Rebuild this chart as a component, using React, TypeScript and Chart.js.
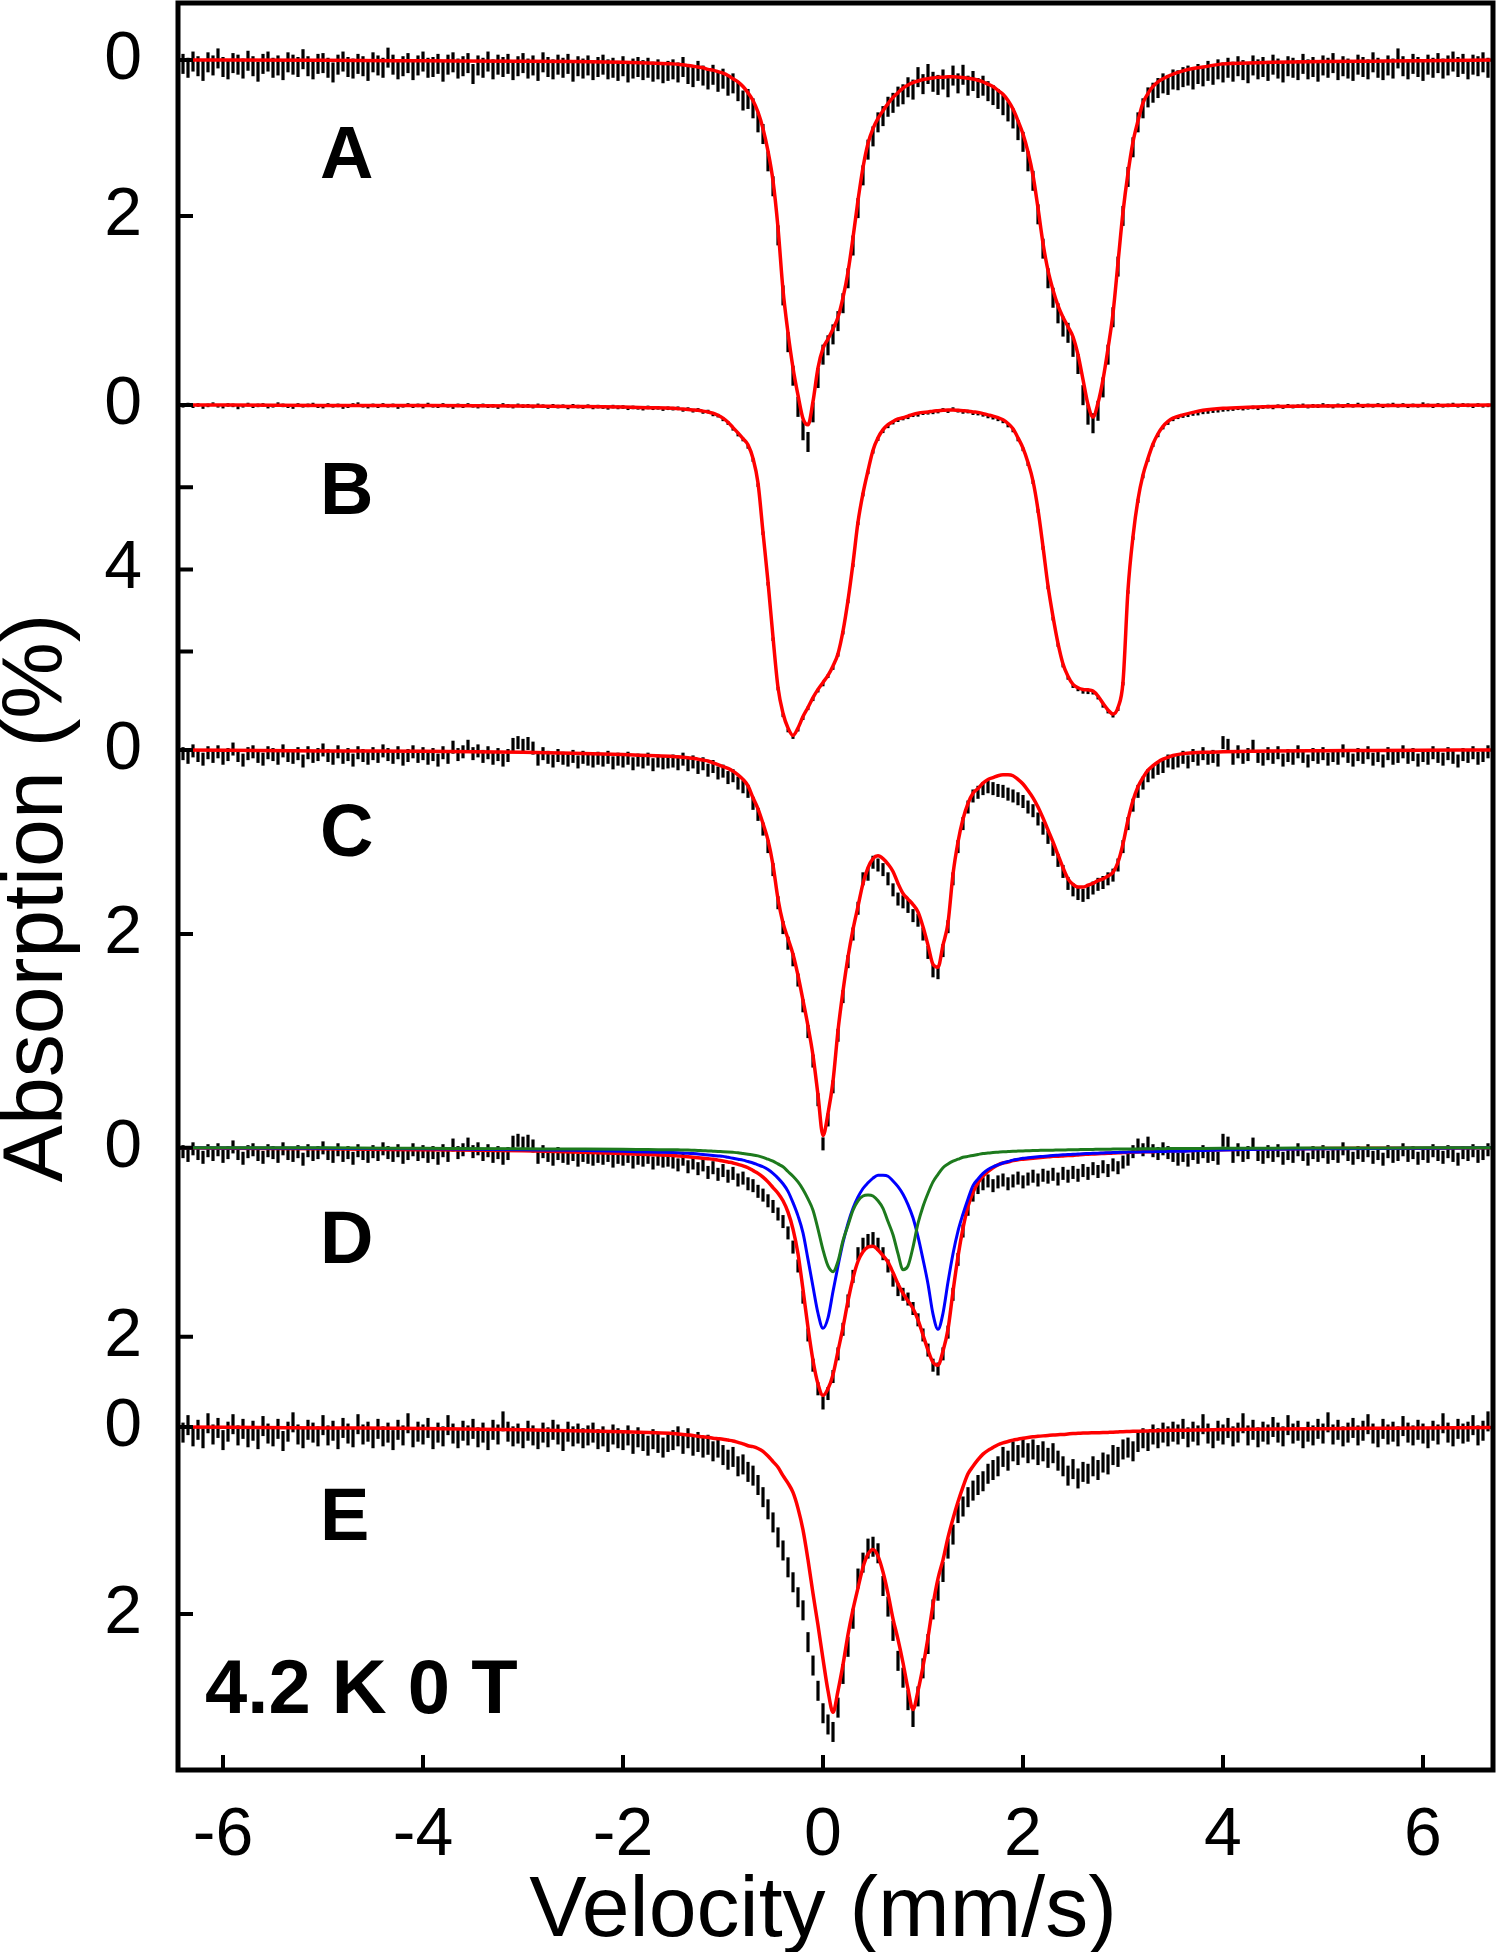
import React, { useEffect, useRef } from 'react';
import { Chart, registerables } from 'chart.js';

Chart.register(...registerables);

const FONT = "'Liberation Sans', Arial, Helvetica, sans-serif";

// ---------- axes ----------
const X_MIN = -6.45;
const X_MAX = 6.7;
const X_TICKS = [-6, -4, -2, 0, 2, 4, 6];

// spectra A..E are stacked: zero line offset and % scale (stack units, reversed axis)
const STACK_OFFSET = [0.603, 4.254, 7.905, 12.116, 15.07];
const STACK_SCALE = [0.825, 0.435, 0.974, 1.0, 0.99];
const Y_RANGE = 18.7;
const Y_TICK_SPEC: [number, number][] = [[0, 0], [0, 2], [1, 0], [1, 2], [1, 4], [1, 6], [2, 0], [2, 2], [3, 0], [3, 2], [4, 0], [4, 2]];
const Y_TICK_LABELS = ['0', '2', '0', '', '4', '', '0', '2', '0', '2', '0', '2'];

// velocity grid of the measured channels (mm/s)
const DATA_V = Array.from({ length: 262 }, (_, i) => Math.round((-6.4 + 0.05 * i) * 100) / 100);
// velocity grid used for the fitted curves
const FIT_V_LEFT = [-6.45, -5, -4, -3, -2.5, -2, -1.75];
const FIT_V_MID = Array.from({ length: 101 }, (_, i) => Math.round((-1.5 + 0.05 * i) * 100) / 100);
const FIT_V_RIGHT = [3.6, 3.7, 3.8, 4.0, 4.25, 4.5, 5.0, 5.5, 6.0, 6.7];
const FIT_V = [...FIT_V_LEFT, ...FIT_V_MID, ...FIT_V_RIGHT];

// ---------- spectrum A ----------
const A_DATA_LEFT = [
  0.05,0.10,0.02,0.08,0.14,0.03,0.07,-0.02,0.09,0.12,0.04,0.06,0.11,0.01,
  0.08,0.15,0.05,0.02,0.10,0.07,0.13,0.03,0.06,0.09,-0.01,0.08,0.12,0.05,
  0.04,0.10,0.16,0.06,0.02,0.09,0.11,0.05,0.08,0.14,0.03,0.07,0.10,-0.03,
  0.06,0.12,0.08,0.04,0.13,0.07,0.02,0.10,0.09,0.05,0.15,0.06,0.03,0.11,
  0.08,0.04,0.18,0.07,0.10,0.02,0.12,0.06,0.09,0.05,0.13,0.08,0.04,0.11,
  0.07,0.14,0.03,0.09,0.12,0.06,0.10,0.05,0.15,0.08,0.11,0.07,0.13,0.09,
  0.06,0.12,0.10,0.14,0.08,0.16,0.11,0.09,0.13,0.10,0.15,0.12,0.17,0.14,
];
const A_DATA_MID = [
  0.12,0.16,0.09,0.18,0.22,0.14,0.20,0.25,0.19,0.28,
  0.24,0.33,0.30,0.40,0.52,0.50,0.62,0.80,0.95,1.30,
  1.62,2.25,3.02,3.62,4.05,4.45,4.75,4.90,4.52,4.08,
  3.78,3.66,3.52,3.35,3.12,2.80,2.38,1.90,1.48,1.15,
  0.98,0.80,0.72,0.60,0.55,0.47,0.44,0.35,0.38,0.22,
  0.31,0.18,0.28,0.32,0.25,0.35,0.20,0.30,0.19,0.33,
  0.27,0.36,0.33,0.40,0.45,0.50,0.58,0.66,0.75,0.90,
  1.05,1.30,1.55,1.98,2.42,2.80,3.05,3.25,3.42,3.50,
  3.68,3.90,4.30,4.55,4.66,4.50,4.20,3.78,3.30,2.65,
  2.00,1.50,1.12,0.80,0.62,0.48,0.42,0.36,0.30,0.32,
  0.25,
];
const A_DATA_RIGHT = [
  0.26,0.22,0.20,0.25,0.18,0.21,0.14,0.19,0.12,0.16,
  0.10,0.15,0.08,0.13,0.17,0.07,0.12,0.09,0.14,0.06,
  0.11,0.16,0.08,0.10,0.13,0.05,0.12,0.09,0.15,0.07,
  0.10,0.04,0.13,0.08,0.11,0.14,0.06,0.09,0.12,0.03,
  0.10,0.13,0.07,0.11,-0.02,0.08,0.12,0.05,0.09,0.14,
  0.06,0.10,0.04,0.11,0.07,0.02,0.09,0.05,0.12,0.06,
  0.08,0.03,0.10,
];
const A_FIT = [
  0.00,0.005,0.01,0.015,0.02,0.03,0.04,
  0.05,0.055,0.06,0.07,0.08,0.09,0.10,0.12,0.13,0.15,
  0.17,0.20,0.24,0.28,0.34,0.42,0.52,0.67,0.88,1.17,
  1.55,2.15,2.95,3.50,3.95,4.30,4.60,4.68,4.38,3.95,
  3.70,3.58,3.45,3.30,3.05,2.72,2.28,1.80,1.38,1.07,
  0.88,0.75,0.65,0.56,0.48,0.42,0.36,0.32,0.29,0.27,
  0.25,0.24,0.23,0.22,0.22,0.215,0.215,0.22,0.225,0.235,
  0.245,0.26,0.28,0.31,0.34,0.39,0.44,0.52,0.63,0.78,
  0.95,1.18,1.48,1.90,2.35,2.70,2.95,3.15,3.30,3.42,
  3.55,3.78,4.10,4.42,4.58,4.40,4.10,3.70,3.25,2.60,
  1.95,1.45,1.05,0.78,0.55,0.43,0.34,0.28,0.24,0.21,
  0.18,
  0.14,0.11,0.09,0.05,0.04,0.03,0.02,0.015,0.01,0.0,
];

// ---------- spectrum B ----------
const B_DATA_LEFT = [
  0.02,-0.01,0.03,0.00,0.05,0.01,-0.02,0.02,0.04,0.00,0.01,0.06,0.02,-0.01,
  0.03,0.01,0.00,0.04,0.02,-0.02,0.01,0.03,0.05,0.00,0.02,0.01,-0.01,0.03,
  0.04,0.00,0.02,0.01,0.05,0.03,0.00,-0.02,0.02,0.04,0.01,0.03,0.00,0.02,
  0.01,0.05,0.02,0.00,0.03,0.01,0.04,-0.01,0.02,0.03,0.00,0.02,0.05,0.01,
  0.03,0.00,0.02,0.04,0.01,0.03,0.02,0.05,0.00,0.02,0.04,0.01,0.03,0.02,
  0.04,0.01,0.03,0.05,0.02,0.04,0.03,0.06,0.02,0.04,0.05,0.03,0.06,0.04,
  0.05,0.07,0.04,0.06,0.05,0.08,0.06,0.07,0.09,0.06,0.08,0.07,0.10,0.08,
];
const B_DATA_MID = [
  0.09,0.08,0.12,0.10,0.14,0.12,0.17,0.16,0.23,0.26,
  0.35,0.44,0.58,0.72,0.84,1.02,1.34,1.95,3.12,4.35,
  5.70,6.90,7.55,7.92,8.08,7.90,7.62,7.38,7.16,6.95,
  6.80,6.60,6.40,6.08,5.54,4.78,3.90,2.88,2.18,1.64,
  1.14,0.83,0.64,0.52,0.43,0.37,0.33,0.30,0.25,0.24,
  0.20,0.19,0.18,0.16,0.12,0.15,0.10,0.14,0.17,0.16,
  0.20,0.21,0.24,0.28,0.31,0.35,0.40,0.50,0.62,0.84,
  1.08,1.44,1.88,2.58,3.48,4.44,5.20,5.84,6.34,6.64,
  6.84,6.92,6.98,6.99,7.00,7.12,7.32,7.46,7.56,7.40,
  6.78,4.55,3.24,2.34,1.74,1.34,0.98,0.74,0.55,0.44,
  0.35,
];
const B_DATA_RIGHT = [
  0.30,0.27,0.25,0.22,0.21,0.18,0.17,0.15,0.14,0.12,
  0.11,0.10,0.08,0.09,0.07,0.06,0.08,0.05,0.04,0.06,
  0.03,0.05,0.02,0.04,0.03,0.01,0.04,0.02,0.03,0.00,
  0.02,0.04,0.01,0.03,0.00,0.02,-0.01,0.03,0.01,0.02,
  0.00,0.03,0.01,-0.01,0.02,0.00,0.03,0.01,0.02,-0.02,
  0.01,0.03,0.00,0.02,0.01,-0.01,0.02,0.00,0.01,0.03,
  0.00,0.02,0.01,
];
const B_FIT = [
  0.00,0.01,0.015,0.025,0.035,0.05,0.065,
  0.08,0.09,0.10,0.11,0.12,0.13,0.15,0.17,0.20,0.25,
  0.32,0.42,0.55,0.68,0.82,0.97,1.30,1.90,3.10,4.30,
  5.65,6.87,7.50,7.86,8.04,7.86,7.58,7.36,7.12,6.92,
  6.75,6.58,6.35,6.05,5.50,4.75,3.85,2.85,2.15,1.60,
  1.10,0.80,0.60,0.48,0.40,0.34,0.31,0.27,0.23,0.20,
  0.18,0.17,0.15,0.14,0.13,0.12,0.12,0.13,0.14,0.15,
  0.17,0.18,0.21,0.24,0.27,0.31,0.36,0.45,0.58,0.80,
  1.05,1.40,1.85,2.55,3.45,4.40,5.15,5.80,6.30,6.60,
  6.80,6.88,6.92,6.93,6.96,7.08,7.26,7.42,7.52,7.36,
  6.74,4.50,3.20,2.30,1.70,1.30,0.95,0.70,0.52,0.40,
  0.32,
  0.24,0.18,0.13,0.08,0.055,0.04,0.025,0.015,0.01,0.0,
];

// ---------- spectrum C (and baseline channels shared with D) ----------
const C_DATA_LEFT = [
  0.04,0.08,0.01,0.06,0.10,0.03,0.07,0.02,0.09,0.05,-0.01,0.06,0.11,0.04,
  0.02,0.07,0.10,0.03,0.05,0.09,0.01,0.06,0.08,0.04,0.12,0.03,0.07,0.05,
  0.00,0.06,0.09,0.02,0.08,0.05,0.11,0.03,0.06,0.09,0.04,0.07,0.01,0.05,
  0.08,0.03,0.10,0.06,0.02,0.07,0.04,0.09,0.05,0.11,0.03,0.08,-0.03,0.05,
  0.02,-0.04,0.04,0.01,0.07,0.03,0.09,0.05,0.11,0.06,-0.06,-0.08,-0.05,-0.07,
  -0.02,0.10,0.04,0.08,0.12,0.06,0.09,0.11,0.07,0.13,0.08,0.10,0.12,0.09,
  0.11,0.08,0.14,0.10,0.12,0.09,0.15,0.11,0.13,0.10,0.16,0.12,0.14,0.13,
];
const C_DATA_MID = [
  0.12,0.15,0.10,0.16,0.13,0.19,0.15,0.22,0.18,0.25,
  0.23,0.30,0.28,0.36,0.40,0.45,0.58,0.70,0.86,1.05,
  1.30,1.66,1.93,2.10,2.28,2.50,2.78,3.06,3.38,3.80,
  4.28,4.02,3.66,3.10,2.68,2.30,2.00,1.72,1.40,1.35,
  1.22,1.25,1.30,1.40,1.52,1.62,1.65,1.70,1.80,1.85,
  2.00,2.20,2.40,2.42,2.18,1.92,1.40,1.05,0.80,0.62,
  0.50,0.46,0.42,0.40,0.42,0.44,0.45,0.48,0.50,0.53,
  0.56,0.62,0.66,0.75,0.85,0.95,1.08,1.20,1.32,1.45,
  1.52,1.56,1.58,1.55,1.50,1.46,1.44,1.40,1.36,1.25,
  1.05,0.80,0.60,0.45,0.36,0.28,0.24,0.20,0.18,0.12,
  0.14,
];
const C_DATA_RIGHT = [
  0.12,0.08,0.13,0.06,0.10,0.04,0.09,0.07,0.11,-0.08,
  -0.05,0.09,0.02,0.08,0.05,-0.04,0.07,0.10,0.04,0.08,
  0.03,0.11,0.06,0.09,0.02,0.07,0.12,0.05,0.08,0.04,
  0.10,0.06,0.09,0.01,0.07,0.11,0.05,0.08,0.03,0.10,
  0.06,0.12,0.04,0.09,0.07,0.02,0.08,0.05,0.11,0.06,
  0.09,0.03,0.07,0.10,0.04,0.08,0.12,0.05,0.07,0.03,
  0.09,0.06,0.02,
];
const C_FIT = [
  0.00,0.01,0.015,0.025,0.035,0.05,0.06,
  0.07,0.075,0.08,0.085,0.09,0.10,0.11,0.12,0.14,0.16,
  0.18,0.20,0.23,0.27,0.32,0.39,0.52,0.64,0.80,0.98,
  1.25,1.62,1.88,2.05,2.22,2.45,2.72,3.00,3.32,3.75,
  4.19,3.95,3.60,3.05,2.62,2.25,1.95,1.70,1.45,1.28,
  1.18,1.15,1.18,1.24,1.32,1.45,1.56,1.62,1.68,1.76,
  1.92,2.12,2.33,2.36,2.12,1.88,1.35,1.00,0.75,0.58,
  0.47,0.42,0.36,0.32,0.30,0.28,0.27,0.27,0.28,0.32,
  0.37,0.44,0.52,0.62,0.74,0.87,1.00,1.14,1.28,1.40,
  1.46,1.49,1.49,1.47,1.45,1.42,1.40,1.37,1.33,1.22,
  1.02,0.76,0.55,0.40,0.30,0.22,0.17,0.13,0.10,0.08,
  0.06,
  0.04,0.03,0.025,0.02,0.015,0.01,0.008,0.005,0.003,0.0,
];

// ---------- spectrum D ----------
const D_DATA_MID = [
  0.15,0.18,0.12,0.20,0.16,0.22,0.18,0.26,0.21,0.28,
  0.24,0.30,0.27,0.34,0.32,0.38,0.40,0.46,0.50,0.56,
  0.62,0.70,0.78,0.90,1.05,1.25,1.58,1.98,2.30,2.55,
  2.70,2.60,2.42,2.18,1.92,1.62,1.36,1.12,1.02,0.98,
  0.96,1.02,1.12,1.25,1.40,1.50,1.55,1.60,1.70,1.82,
  1.98,2.14,2.30,2.34,2.18,1.95,1.55,1.18,0.88,0.65,
  0.50,0.42,0.38,0.35,0.40,0.36,0.34,0.38,0.35,0.32,
  0.36,0.33,0.30,0.34,0.29,0.31,0.28,0.33,0.27,0.30,
  0.26,0.29,0.24,0.27,0.22,0.25,0.20,0.24,0.18,0.21,
  0.15,0.12,0.04,-0.03,0.02,-0.05,0.03,0.06,0.01,0.05,
  0.08,
];
const D_FIT_TOTAL = [
  0.00,0.01,0.02,0.03,0.045,0.06,0.07,
  0.08,0.085,0.09,0.095,0.10,0.105,0.11,0.115,0.12,0.13,
  0.14,0.15,0.16,0.175,0.19,0.21,0.24,0.27,0.31,0.36,
  0.42,0.48,0.56,0.68,0.86,1.12,1.50,1.90,2.25,2.50,
  2.62,2.55,2.40,2.15,1.90,1.62,1.38,1.20,1.10,1.05,
  1.04,1.08,1.14,1.21,1.32,1.44,1.54,1.62,1.70,1.82,
  1.98,2.14,2.27,2.30,2.15,1.92,1.52,1.15,0.85,0.62,
  0.47,0.37,0.30,0.25,0.21,0.18,0.16,0.15,0.135,0.125,
  0.12,0.115,0.11,0.105,0.10,0.095,0.09,0.088,0.085,0.082,
  0.08,0.075,0.07,0.068,0.065,0.062,0.06,0.058,0.055,0.052,
  0.05,0.048,0.045,0.043,0.04,0.04,0.04,0.037,0.035,0.033,
  0.03,
  0.03,0.028,0.025,0.02,0.015,0.012,0.008,0.005,0.003,0.0,
];
const D_FIT_BLUE = [
  0.00,0.005,0.01,0.02,0.025,0.035,0.045,
  0.05,0.052,0.055,0.058,0.06,0.065,0.07,0.075,0.08,0.085,
  0.09,0.10,0.11,0.12,0.13,0.145,0.16,0.18,0.20,0.23,
  0.27,0.32,0.38,0.46,0.58,0.72,0.90,1.18,1.47,1.75,
  1.91,1.80,1.52,1.25,1.00,0.80,0.64,0.52,0.43,0.37,
  0.32,0.29,0.29,0.30,0.35,0.41,0.49,0.60,0.74,0.94,
  1.18,1.44,1.76,1.92,1.75,1.42,1.12,0.88,0.70,0.54,
  0.40,0.33,0.27,0.23,0.20,0.18,0.16,0.145,0.13,0.12,
  0.11,0.105,0.10,0.095,0.09,0.085,0.08,0.077,0.074,0.071,
  0.068,0.065,0.062,0.06,0.058,0.056,0.054,0.052,0.05,0.048,
  0.046,0.045,0.044,0.043,0.042,0.041,0.04,0.039,0.038,0.037,
  0.036,
  0.035,0.03,0.027,0.022,0.018,0.015,0.01,0.006,0.004,0.0,
];
const D_FIT_GREEN = [
  0.00,0.0,0.005,0.01,0.012,0.015,0.018,
  0.02,0.021,0.022,0.023,0.025,0.027,0.03,0.032,0.035,0.038,
  0.04,0.043,0.047,0.052,0.06,0.068,0.075,0.085,0.10,0.12,
  0.14,0.17,0.20,0.25,0.30,0.36,0.44,0.54,0.66,0.86,
  1.08,1.25,1.31,1.20,0.98,0.82,0.66,0.56,0.51,0.50,
  0.51,0.56,0.64,0.78,0.92,1.12,1.29,1.25,1.05,0.80,
  0.62,0.48,0.36,0.28,0.21,0.17,0.14,0.12,0.10,0.09,
  0.08,0.07,0.06,0.055,0.05,0.046,0.042,0.039,0.036,0.034,
  0.032,0.03,0.028,0.027,0.026,0.025,0.024,0.023,0.022,0.021,
  0.02,0.019,0.018,0.017,0.016,0.015,0.014,0.014,0.013,0.013,
  0.012,0.012,0.011,0.011,0.01,0.01,0.009,0.009,0.009,0.008,
  0.008,
  0.008,0.007,0.006,0.005,0.004,0.003,0.002,0.001,0.0,0.0,
];

// ---------- spectrum E ----------
const E_DATA_LEFT = [
  0.06,-0.02,0.10,0.03,0.12,-0.04,0.08,0.01,0.14,0.05,-0.03,0.09,0.02,0.11,
  0.04,0.13,-0.01,0.07,0.10,0.02,0.15,0.05,-0.05,0.08,0.12,0.03,0.06,0.10,
  -0.02,0.09,0.04,0.13,0.01,0.07,0.11,-0.03,0.08,0.05,0.12,0.02,0.10,0.06,
  0.14,0.03,0.09,-0.04,0.11,0.05,0.08,0.01,0.13,0.06,0.10,-0.02,0.07,0.12,
  0.04,0.09,0.02,0.11,0.06,0.14,0.03,0.08,-0.06,0.05,0.10,0.07,0.12,0.04,
  0.09,0.13,0.06,0.11,0.03,0.08,0.15,0.05,0.10,0.07,0.12,0.09,0.06,0.13,
  0.10,0.16,0.08,0.12,0.14,0.09,0.18,0.11,0.15,0.20,0.13,0.17,0.22,0.16,
];
const E_DATA_MID = [
  0.14,0.10,0.18,0.12,0.20,0.16,0.22,0.19,0.26,0.22,
  0.30,0.35,0.32,0.42,0.40,0.48,0.52,0.62,0.75,0.88,
  1.02,1.18,1.32,1.50,1.66,1.82,1.96,2.30,2.55,2.82,
  3.06,3.18,3.26,3.00,2.64,2.35,2.05,1.62,1.45,1.30,
  1.28,1.35,1.70,1.92,2.18,2.50,2.68,2.92,3.10,2.88,
  2.58,2.32,1.95,1.75,1.55,1.30,1.15,0.92,0.85,0.75,
  0.68,0.62,0.58,0.50,0.46,0.42,0.32,0.36,0.26,0.30,
  0.22,0.28,0.24,0.30,0.26,0.33,0.28,0.36,0.42,0.52,
  0.45,0.55,0.48,0.50,0.42,0.46,0.38,0.40,0.30,0.32,
  0.24,0.22,0.26,0.16,0.12,0.15,0.08,0.12,0.06,0.10,
  0.05,
];
const E_DATA_RIGHT = [
  0.08,0.02,0.11,0.05,0.09,-0.03,0.07,0.12,0.04,0.08,
  0.01,0.10,0.06,-0.04,0.09,0.03,0.11,0.05,0.08,0.00,
  0.06,0.10,-0.02,0.07,0.04,0.12,0.05,0.09,0.02,0.07,
  -0.05,0.08,0.03,0.10,0.06,0.01,0.09,0.04,-0.03,0.07,
  0.11,0.02,0.08,0.05,0.10,-0.01,0.06,0.09,0.03,0.07,
  0.12,0.04,0.08,-0.04,0.06,0.10,0.02,0.07,0.05,-0.02,
  0.09,0.04,-0.06,
];
const E_FIT = [
  0.00,0.01,0.015,0.03,0.04,0.05,0.06,
  0.07,0.075,0.08,0.085,0.09,0.10,0.105,0.11,0.12,0.125,
  0.13,0.14,0.15,0.165,0.18,0.20,0.21,0.23,0.26,0.31,
  0.37,0.43,0.52,0.60,0.70,0.87,1.10,1.42,1.78,2.12,
  2.48,2.82,3.05,2.82,2.54,2.22,1.95,1.72,1.50,1.36,
  1.31,1.38,1.55,1.78,2.05,2.27,2.52,2.80,3.02,2.82,
  2.56,2.25,1.90,1.62,1.42,1.18,0.98,0.80,0.64,0.50,
  0.42,0.35,0.29,0.25,0.22,0.19,0.17,0.155,0.14,0.13,
  0.12,0.112,0.105,0.10,0.095,0.09,0.085,0.082,0.08,0.075,
  0.07,0.068,0.065,0.063,0.062,0.061,0.06,0.058,0.056,0.053,
  0.05,0.048,0.046,0.045,0.044,0.042,0.04,0.039,0.038,0.036,
  0.035,
  0.035,0.033,0.031,0.028,0.025,0.022,0.018,0.014,0.01,0.005,
];

const SPECTRA_DATA = [
  [...A_DATA_LEFT, ...A_DATA_MID, ...A_DATA_RIGHT],
  [...B_DATA_LEFT, ...B_DATA_MID, ...B_DATA_RIGHT],
  [...C_DATA_LEFT, ...C_DATA_MID, ...C_DATA_RIGHT],
  [...C_DATA_LEFT, ...D_DATA_MID, ...C_DATA_RIGHT],
  [...E_DATA_LEFT, ...E_DATA_MID, ...E_DATA_RIGHT],
];
const ERRBAR_HALF = [10, 1.8, 6.5, 6.5, 10];
const ERRBAR_WIDTH = [3.2, 3, 3.2, 3.2, 3.2];

const FITS = [
  { spectrum: 0, values: A_FIT, color: '#ff0000', width: 3.5, order: 5 },
  { spectrum: 1, values: B_FIT, color: '#ff0000', width: 3.5, order: 5 },
  { spectrum: 2, values: C_FIT, color: '#ff0000', width: 3.5, order: 5 },
  { spectrum: 3, values: D_FIT_TOTAL, color: '#ff0000', width: 3.5, order: 5 },
  { spectrum: 3, values: D_FIT_BLUE, color: '#0000ff', width: 3, order: 3 },
  { spectrum: 3, values: D_FIT_GREEN, color: '#1d7a1d', width: 3, order: 1 },
  { spectrum: 4, values: E_FIT, color: '#ff0000', width: 3.5, order: 5 },
];

const PANEL_LABELS = [
  { text: 'A', spectrum: 0, v: -5.03, value: 1.51, size: 74 },
  { text: 'B', spectrum: 1, v: -5.03, value: 2.65, size: 74 },
  { text: 'C', spectrum: 2, v: -5.03, value: 1.15, size: 74 },
  { text: 'D', spectrum: 3, v: -5.03, value: 1.22, size: 74 },
  { text: 'E', spectrum: 4, v: -5.03, value: 1.21, size: 74 },
  { text: '4.2 K 0 T', spectrum: 4, v: -6.18, value: 3.06, size: 76 },
];

const toStack = (s: number, val: number) => STACK_OFFSET[s] + STACK_SCALE[s] * val;

const zeroPad = (s: any) => {
  s.paddingTop = 0;
  s.paddingBottom = 0;
  s.paddingLeft = 0;
  s.paddingRight = 0;
};

const decorPlugin = {
  id: 'decor',
  afterDatasetsDraw(chart: any) {
    const { ctx, chartArea: a, scales } = chart;
    const xs = scales.x;
    const ys = scales.y;
    ctx.save();
    ctx.strokeStyle = '#000';
    ctx.lineWidth = 4;
    ctx.beginPath();
    xs.ticks.forEach((t: any) => {
      const px = xs.getPixelForValue(t.value);
      ctx.moveTo(px, a.bottom);
      ctx.lineTo(px, a.bottom - 15);
    });
    ys.ticks.forEach((t: any) => {
      const py = ys.getPixelForValue(t.value);
      ctx.moveTo(a.left, py);
      ctx.lineTo(a.left + 15, py);
    });
    ctx.stroke();
    ctx.lineWidth = 5;
    ctx.strokeRect(a.left, a.top, a.right - a.left, a.bottom - a.top);

    ctx.fillStyle = '#000';
    ctx.textAlign = 'left';
    ctx.textBaseline = 'alphabetic';
    PANEL_LABELS.forEach((l) => {
      ctx.font = `bold ${l.size}px ${FONT}`;
      ctx.fillText(l.text, xs.getPixelForValue(l.v), ys.getPixelForValue(toStack(l.spectrum, l.value)));
    });

    // axis titles
    ctx.font = `86px ${FONT}`;
    ctx.textAlign = 'center';
    ctx.textBaseline = 'alphabetic';
    ctx.fillText('Velocity (mm/s)', xs.getPixelForValue(0), 1936);
    ctx.save();
    ctx.translate(38, 898);
    ctx.rotate(-Math.PI / 2);
    ctx.textBaseline = 'middle';
    ctx.fillText('Absorption (%)', 0, 0);
    ctx.restore();
    ctx.restore();
  },
};

export default function App() {
  const ref = useRef<HTMLCanvasElement>(null);

  useEffect(() => {
    const canvas = ref.current;
    if (!canvas) return;
    Chart.defaults.font.family = FONT;
    Chart.defaults.color = '#000';

    const datasets: any[] = [];
    SPECTRA_DATA.forEach((vals, s) => {
      datasets.push({
        label: `data ${s}`,
        data: vals.map((y, i) => ({ x: DATA_V[i], y: toStack(s, y) })),
        showLine: false,
        pointStyle: 'line',
        pointRotation: 90,
        pointRadius: ERRBAR_HALF[s],
        pointBorderWidth: ERRBAR_WIDTH[s],
        pointBorderColor: '#000',
        pointBackgroundColor: '#000',
        pointHoverRadius: ERRBAR_HALF[s],
        order: 10,
      });
    });
    FITS.forEach((f, k) => {
      datasets.push({
        label: `fit ${k}`,
        data: f.values.map((y, i) => ({ x: FIT_V[i], y: toStack(f.spectrum, y) })),
        showLine: true,
        borderColor: f.color,
        borderWidth: f.width,
        pointRadius: 0,
        pointHoverRadius: 0,
        fill: false,
        cubicInterpolationMode: 'monotone',
        order: f.order,
      });
    });

    const chart = new Chart(canvas, {
      type: 'scatter',
      data: { datasets },
      options: {
        responsive: false,
        devicePixelRatio: 1,
        animation: false,
        events: [],
        layout: { autoPadding: false, padding: { top: 3, right: 7, left: 0, bottom: 0 } },
        plugins: { legend: { display: false }, tooltip: { enabled: false } },
        scales: {
          x: {
            type: 'linear',
            min: X_MIN,
            max: X_MAX,
            afterBuildTicks: (s: any) => {
              s.ticks = X_TICKS.map((v) => ({ value: v }));
            },
            afterFit: (s: any) => {
              s.height = 182;
              zeroPad(s);
            },
            grid: { display: false, drawTicks: false },
            border: { display: false },
            ticks: {
              autoSkip: false,
              maxRotation: 0,
              padding: 32,
              color: '#000',
              font: { family: FONT, size: 68, lineHeight: 1 },
              callback: (v: any) => String(v),
            },
          },
          y: {
            type: 'linear',
            min: 0,
            max: Y_RANGE,
            reverse: true,
            afterBuildTicks: (s: any) => {
              s.ticks = Y_TICK_SPEC.map(([sp, t]) => ({ value: toStack(sp, t) }));
            },
            afterFit: (s: any) => {
              s.width = 178;
              zeroPad(s);
            },
            grid: { display: false, drawTicks: false },
            border: { display: false },
            ticks: {
              autoSkip: false,
              padding: 36,
              color: '#000',
              font: { family: FONT, size: 68, lineHeight: 1 },
              callback: (_v: any, i: number) => Y_TICK_LABELS[i],
            },
          },
        },
      },
      plugins: [decorPlugin],
    });
    return () => chart.destroy();
  }, []);

  return (
    <div style={{ position: 'absolute', left: 0, top: 0, width: 1500, height: 1952, background: '#fff' }}>
      <canvas ref={ref} width={1500} height={1952} style={{ width: 1500, height: 1952, display: 'block' }} />
    </div>
  );
}
